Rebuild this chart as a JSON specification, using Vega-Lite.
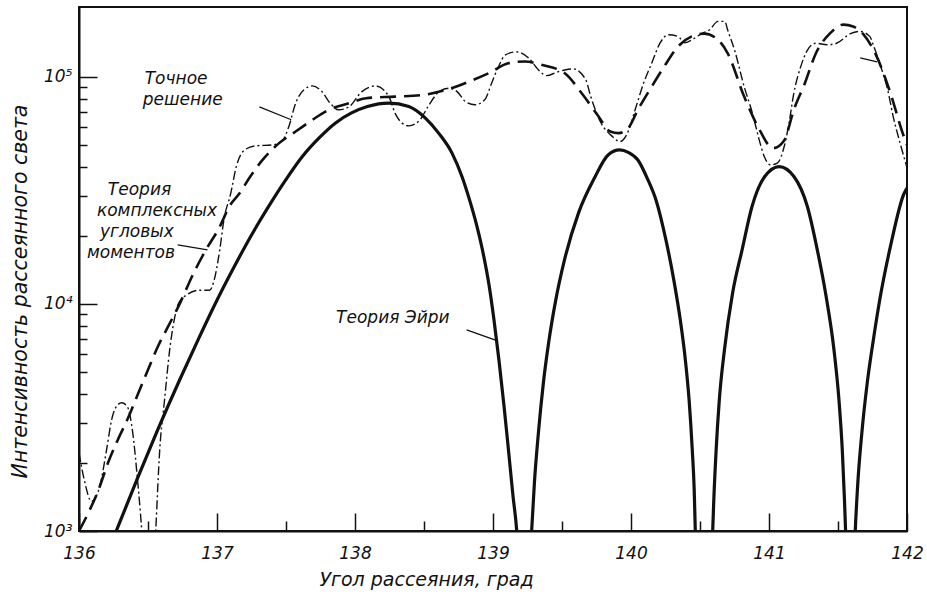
{
  "$schema": "https://vega.github.io/schema/vega-lite/v6.json",
  "width": 828,
  "height": 524,
  "autosize": {"type": "none"},
  "padding": {"left": 79, "top": 7, "right": 20, "bottom": 67},
  "background": "white",
  "config": {"view": {"stroke": "#111", "strokeWidth": 2}, "font": "DejaVu Sans"},
  "datasets": {
    "airy": [
      {"x": 136.27, "y": 1000}, {"x": 136.419, "y": 1679}, {"x": 136.57, "y": 2786}, {"x": 136.729, "y": 4624},
      {"x": 136.862, "y": 6930}, {"x": 136.997, "y": 10300}, {"x": 137.113, "y": 14130}, {"x": 137.242, "y": 19720},
      {"x": 137.372, "y": 26730}, {"x": 137.498, "y": 35160}, {"x": 137.617, "y": 44460}, {"x": 137.74, "y": 53830},
      {"x": 137.859, "y": 62660}, {"x": 137.975, "y": 69340}, {"x": 138.09, "y": 73960}, {"x": 138.245, "y": 76560},
      {"x": 138.39, "y": 73960}, {"x": 138.51, "y": 65770}, {"x": 138.606, "y": 56490}, {"x": 138.703, "y": 46130},
      {"x": 138.775, "y": 36390}, {"x": 138.83, "y": 28710}, {"x": 138.881, "y": 22280}, {"x": 138.931, "y": 16440},
      {"x": 138.971, "y": 12130}, {"x": 139.007, "y": 8510}, {"x": 139.043, "y": 5660}, {"x": 139.079, "y": 3590},
      {"x": 139.112, "y": 2275}, {"x": 139.144, "y": 1443}, {"x": 139.172, "y": 1000}, {"x": 139.225, "y": 200},
      {"x": 139.28, "y": 1000}, {"x": 139.3, "y": 1627}, {"x": 139.329, "y": 2704}, {"x": 139.365, "y": 4487},
      {"x": 139.406, "y": 6930}, {"x": 139.455, "y": 10420}, {"x": 139.518, "y": 15630}, {"x": 139.62, "y": 25180},
      {"x": 139.739, "y": 36230}, {"x": 139.834, "y": 45290}, {"x": 139.918, "y": 47640}, {"x": 139.98, "y": 46500},
      {"x": 140.05, "y": 43050}, {"x": 140.123, "y": 35160}, {"x": 140.181, "y": 28710}, {"x": 140.253, "y": 19140},
      {"x": 140.31, "y": 12760}, {"x": 140.357, "y": 8510}, {"x": 140.394, "y": 5660}, {"x": 140.421, "y": 3776},
      {"x": 140.444, "y": 2275}, {"x": 140.458, "y": 1517}, {"x": 140.466, "y": 1000}, {"x": 140.53, "y": 200},
      {"x": 140.592, "y": 1000}, {"x": 140.6, "y": 1370}, {"x": 140.617, "y": 2275}, {"x": 140.64, "y": 3776},
      {"x": 140.677, "y": 6266}, {"x": 140.736, "y": 11140}, {"x": 140.805, "y": 17300}, {"x": 140.877, "y": 26850},
      {"x": 140.968, "y": 36310}, {"x": 141.074, "y": 40270}, {"x": 141.182, "y": 36310}, {"x": 141.278, "y": 26850},
      {"x": 141.35, "y": 17300}, {"x": 141.41, "y": 11140}, {"x": 141.471, "y": 6266}, {"x": 141.507, "y": 3776},
      {"x": 141.531, "y": 2275}, {"x": 141.547, "y": 1370}, {"x": 141.555, "y": 1000}, {"x": 141.59, "y": 200},
      {"x": 141.625, "y": 1000}, {"x": 141.643, "y": 1607}, {"x": 141.672, "y": 2673}, {"x": 141.711, "y": 4446},
      {"x": 141.755, "y": 6871}, {"x": 141.801, "y": 10300}, {"x": 141.884, "y": 18370}, {"x": 141.978, "y": 30550},
      {"x": 142.0, "y": 32360}
    ],
    "cam": [
      {"x": 136.0, "y": 1000}, {"x": 136.067, "y": 1200}, {"x": 136.14, "y": 1510}, {"x": 136.21, "y": 1995},
      {"x": 136.28, "y": 2512}, {"x": 136.357, "y": 3162}, {"x": 136.43, "y": 4050}, {"x": 136.5, "y": 5130},
      {"x": 136.57, "y": 6460}, {"x": 136.645, "y": 7940}, {"x": 136.72, "y": 9730}, {"x": 136.83, "y": 13650},
      {"x": 136.92, "y": 17300}, {"x": 137.02, "y": 21880}, {"x": 137.09, "y": 26920}, {"x": 137.165, "y": 30760},
      {"x": 137.24, "y": 36310}, {"x": 137.33, "y": 43050}, {"x": 137.45, "y": 51050}, {"x": 137.57, "y": 57410},
      {"x": 137.69, "y": 64570}, {"x": 137.81, "y": 71610}, {"x": 137.96, "y": 76560}, {"x": 138.08, "y": 80540},
      {"x": 138.29, "y": 81850}, {"x": 138.49, "y": 83180}, {"x": 138.66, "y": 87700}, {"x": 138.83, "y": 95500},
      {"x": 138.97, "y": 103750}, {"x": 139.11, "y": 114800}, {"x": 139.23, "y": 116900}, {"x": 139.35, "y": 113000},
      {"x": 139.52, "y": 103750}, {"x": 139.64, "y": 85110}, {"x": 139.76, "y": 67610}, {"x": 139.85, "y": 57410},
      {"x": 139.91, "y": 56490}, {"x": 139.98, "y": 59430}, {"x": 140.05, "y": 71610}, {"x": 140.15, "y": 90570},
      {"x": 140.24, "y": 110900}, {"x": 140.34, "y": 135800}, {"x": 140.44, "y": 150700}, {"x": 140.53, "y": 154900},
      {"x": 140.63, "y": 145600}, {"x": 140.7, "y": 127100}, {"x": 140.82, "y": 81850}, {"x": 140.92, "y": 60260},
      {"x": 141.03, "y": 48530}, {"x": 141.11, "y": 52480}, {"x": 141.18, "y": 71610}, {"x": 141.26, "y": 93760},
      {"x": 141.34, "y": 127100}, {"x": 141.44, "y": 154900}, {"x": 141.54, "y": 169800}, {"x": 141.61, "y": 166700},
      {"x": 141.68, "y": 154900}, {"x": 141.78, "y": 123000}, {"x": 141.88, "y": 84720}, {"x": 141.97, "y": 56230},
      {"x": 142.0, "y": 50120}
    ],
    "exact": [
      {"x": 136.0, "y": 2210}, {"x": 136.04, "y": 1660}, {"x": 136.09, "y": 1350}, {"x": 136.15, "y": 1570},
      {"x": 136.2, "y": 2280}, {"x": 136.236, "y": 3080}, {"x": 136.28, "y": 3590}, {"x": 136.31, "y": 3670},
      {"x": 136.35, "y": 3530}, {"x": 136.39, "y": 2690}, {"x": 136.42, "y": 1790}, {"x": 136.445, "y": 1200},
      {"x": 136.455, "y": 1000}, {"x": 136.5, "y": 200}, {"x": 136.556, "y": 1000}, {"x": 136.585, "y": 2280},
      {"x": 136.62, "y": 3780}, {"x": 136.657, "y": 6270}, {"x": 136.69, "y": 8510}, {"x": 136.72, "y": 10000},
      {"x": 136.78, "y": 10960}, {"x": 136.87, "y": 11480}, {"x": 136.946, "y": 11480}, {"x": 136.98, "y": 12760},
      {"x": 137.02, "y": 17300}, {"x": 137.05, "y": 23440}, {"x": 137.1, "y": 30760}, {"x": 137.14, "y": 40270},
      {"x": 137.2, "y": 47640}, {"x": 137.28, "y": 49660}, {"x": 137.4, "y": 50120}, {"x": 137.475, "y": 52480},
      {"x": 137.52, "y": 60260}, {"x": 137.57, "y": 76560}, {"x": 137.63, "y": 87700}, {"x": 137.69, "y": 91200},
      {"x": 137.76, "y": 86100}, {"x": 137.82, "y": 76560}, {"x": 137.88, "y": 71610}, {"x": 137.95, "y": 73280},
      {"x": 138.05, "y": 86100}, {"x": 138.15, "y": 91200}, {"x": 138.245, "y": 81850}, {"x": 138.29, "y": 69180},
      {"x": 138.33, "y": 63530}, {"x": 138.39, "y": 60810}, {"x": 138.47, "y": 64570}, {"x": 138.53, "y": 74130},
      {"x": 138.61, "y": 86100}, {"x": 138.68, "y": 89130}, {"x": 138.74, "y": 86100}, {"x": 138.8, "y": 77800},
      {"x": 138.87, "y": 75340}, {"x": 138.94, "y": 79250}, {"x": 138.99, "y": 93760}, {"x": 139.04, "y": 110900},
      {"x": 139.09, "y": 125000}, {"x": 139.17, "y": 128800}, {"x": 139.26, "y": 120800}, {"x": 139.33, "y": 107200},
      {"x": 139.39, "y": 101200}, {"x": 139.46, "y": 104700}, {"x": 139.52, "y": 107200}, {"x": 139.58, "y": 108400},
      {"x": 139.67, "y": 97700}, {"x": 139.71, "y": 81280}, {"x": 139.78, "y": 63100}, {"x": 139.86, "y": 54950},
      {"x": 139.92, "y": 51880}, {"x": 139.98, "y": 57540}, {"x": 140.03, "y": 71610}, {"x": 140.09, "y": 93330},
      {"x": 140.15, "y": 114800}, {"x": 140.21, "y": 140600}, {"x": 140.27, "y": 153100}, {"x": 140.34, "y": 150700},
      {"x": 140.39, "y": 141300}, {"x": 140.46, "y": 147900}, {"x": 140.51, "y": 154900}, {"x": 140.57, "y": 161100},
      {"x": 140.63, "y": 175400}, {"x": 140.68, "y": 175400}, {"x": 140.7, "y": 161100}, {"x": 140.75, "y": 131500},
      {"x": 140.82, "y": 90570}, {"x": 140.88, "y": 69180}, {"x": 140.93, "y": 52480}, {"x": 140.965, "y": 44670},
      {"x": 141.01, "y": 40930}, {"x": 141.06, "y": 41690}, {"x": 141.11, "y": 49320}, {"x": 141.145, "y": 62520},
      {"x": 141.18, "y": 84720}, {"x": 141.23, "y": 110900}, {"x": 141.28, "y": 131500}, {"x": 141.34, "y": 140600},
      {"x": 141.42, "y": 138400}, {"x": 141.49, "y": 140600}, {"x": 141.59, "y": 154900}, {"x": 141.66, "y": 158500},
      {"x": 141.73, "y": 150700}, {"x": 141.76, "y": 135800}, {"x": 141.81, "y": 110900}, {"x": 141.86, "y": 87700},
      {"x": 141.9, "y": 66830}, {"x": 141.95, "y": 51050}, {"x": 142.0, "y": 39810}
    ],
    "labels": [
      {"x": 136.476, "y": 93100, "t": "Точное"},
      {"x": 136.462, "y": 75340, "t": "решение"},
      {"x": 136.209, "y": 30200, "t": "Теория"},
      {"x": 136.13, "y": 24430, "t": "комплексных"},
      {"x": 136.152, "y": 19730, "t": "угловых"},
      {"x": 136.058, "y": 15960, "t": "моментов"},
      {"x": 137.863, "y": 8240, "t": "Теория  Эйри"}
    ],
    "leaders": [
      {"x": 137.307, "y": 73800, "x2": 137.538, "y2": 64700},
      {"x": 136.715, "y": 18200, "x2": 136.931, "y2": 17300},
      {"x": 138.809, "y": 7680, "x2": 139.018, "y2": 6930},
      {"x": 141.661, "y": 121300, "x2": 141.783, "y2": 116400}
    ]
  },
  "encoding": {
    "x": {
      "field": "x", "type": "quantitative",
      "scale": {"domain": [136, 142], "nice": false, "zero": false},
      "axis": {
        "title": "Угол  рассеяния, град",
        "values": [136, 136.5, 137, 137.5, 138, 138.5, 139, 139.5, 140, 140.5, 141, 141.5, 142],
        "labelExpr": "datum.value % 1 == 0 ? format(datum.value, 'd') : ''",
        "tickSize": {"condition": {"test": "datum.value % 1 == 0", "value": -18}, "value": -10},
        "labelPadding": 32,
        "grid": false,
        "domainColor": "#111", "domainWidth": 2,
        "tickColor": "#111", "tickWidth": 1.5,
        "labelFont": "DejaVu Sans", "labelFontStyle": "italic", "labelFontSize": 17, "labelColor": "#111",
        "labelFlush": false, "labelOverlap": false,
        "titleFont": "DejaVu Sans", "titleFontStyle": "italic", "titleFontWeight": "normal", "titleFontSize": 19,
        "titleColor": "#111", "titleX": 347, "titleY": 54, "titleBaseline": "alphabetic", "titleAlign": "center"
      }
    },
    "y": {
      "field": "y", "type": "quantitative",
      "scale": {"type": "log", "domain": [1000, 203000], "nice": false},
      "axis": {
        "title": "Интенсивность  рассеянного   света",
        "values": [1000, 2000, 3000, 4000, 5000, 6000, 7000, 8000, 9000, 10000, 20000, 30000, 40000, 50000, 60000, 70000, 80000, 90000, 100000],
        "labelExpr": "datum.value == 1000 ? '10³' : datum.value == 10000 ? '10⁴' : datum.value == 100000 ? '10⁵' : ''",
        "tickSize": {"condition": {"test": "datum.value == 1000 || datum.value == 10000 || datum.value == 100000", "value": -18}, "value": -8},
        "labelPadding": 25,
        "grid": false,
        "domainColor": "#111", "domainWidth": 2,
        "tickColor": "#111", "tickWidth": 1.5,
        "labelFont": "DejaVu Sans", "labelFontStyle": "italic", "labelFontSize": 17, "labelColor": "#111",
        "labelFlush": false, "labelOverlap": false,
        "titleFont": "DejaVu Sans", "titleFontStyle": "italic", "titleFontWeight": "normal", "titleFontSize": 20.5,
        "titleColor": "#111", "titleX": -53, "titleY": 284, "titleAngle": -90, "titleBaseline": "alphabetic", "titleAlign": "center"
      }
    }
  },
  "layer": [
    {
      "data": {"name": "airy"},
      "mark": {"type": "line", "color": "#111", "strokeWidth": 3.2, "interpolate": "monotone", "clip": true}
    },
    {
      "data": {"name": "cam"},
      "mark": {"type": "line", "color": "#111", "strokeWidth": 2.6, "strokeDash": [16, 8], "interpolate": "monotone", "clip": true}
    },
    {
      "data": {"name": "exact"},
      "mark": {"type": "line", "color": "#111", "strokeWidth": 1.4, "strokeDash": [9, 3, 2, 3], "interpolate": "monotone", "clip": true}
    },
    {
      "data": {"name": "leaders"},
      "mark": {"type": "rule", "color": "#111", "strokeWidth": 1.3},
      "encoding": {"x2": {"field": "x2"}, "y2": {"field": "y2"}}
    },
    {
      "data": {"name": "labels"},
      "mark": {"type": "text", "align": "left", "baseline": "alphabetic", "font": "DejaVu Sans", "fontStyle": "italic", "fontSize": 17, "color": "#111"},
      "encoding": {"text": {"field": "t"}}
    }
  ]
}
